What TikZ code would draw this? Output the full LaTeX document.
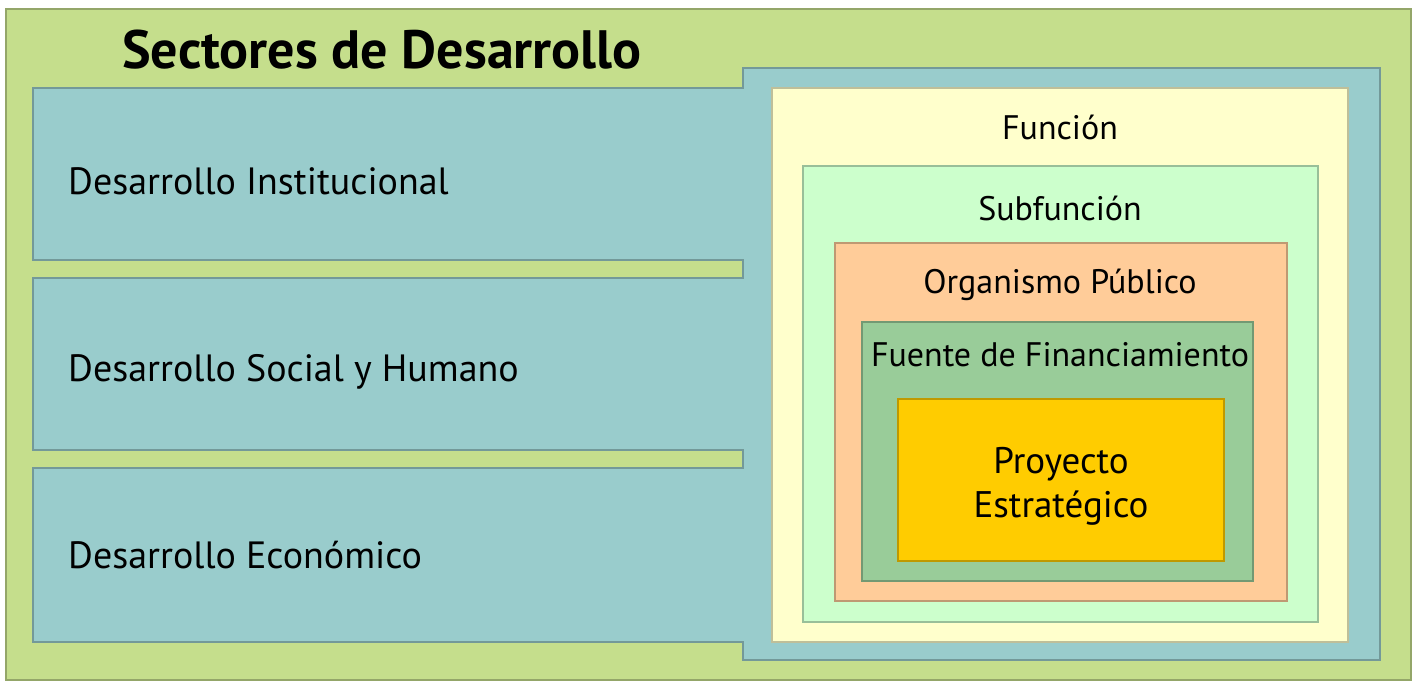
\documentclass[tikz,border=0pt]{standalone}
\usepackage{fontspec}
\setmainfont{PT Sans}
\definecolor{bggreen}{RGB}{197,222,140}
\definecolor{secblue}{RGB}{153,204,204}
\definecolor{cream}{RGB}{255,255,204}
\definecolor{lgreen}{RGB}{204,255,204}
\definecolor{peach}{RGB}{255,204,153}
\definecolor{mgreen}{RGB}{153,204,153}
\definecolor{gold}{RGB}{255,204,0}
\tikzset{
  layer/.style={fill=#1, draw=#1!75!black, line width=1.2pt},
  lbl/.style={font=\fontsize{38}{42}\selectfont, text=black, inner sep=0pt},
  rlbl/.style={font=\fontsize{34}{38}\selectfont, text=black, inner sep=0pt, anchor=center},
}
\begin{document}
\begin{tikzpicture}[x=1pt,y=-1pt]
\useasboundingbox (0,0) rectangle (1414,683);
\fill[white] (0,0) rectangle (1414,683);
\path[layer=bggreen] (6,9) rectangle (1411,680);
% sectors shape
\path[layer=secblue] (33,88) -- (743,88) -- (743,68) -- (1380,68) -- (1380,660)
  -- (743,660) -- (743,642) -- (33,642) -- (33,468) -- (743,468) -- (743,450)
  -- (33,450) -- (33,278) -- (743,278) -- (743,260) -- (33,260) -- cycle;
% nested boxes
\path[layer=cream]  (772,88)  rectangle (1348,642);
\path[layer=lgreen] (803,166) rectangle (1318,622);
\path[layer=peach]  (835,243) rectangle (1287,601);
\path[layer=mgreen] (862,322) rectangle (1253,581);
\path[layer=gold]   (898,399) rectangle (1224,561);
% texts
\node[font=\fontsize{54}{58}\selectfont\bfseries, inner sep=0pt, anchor=west] (title) at (122,50) {Sectores de Desarrollo};
\node[lbl, anchor=west] (s1) at (68,181) {Desarrollo Institucional};
\node[lbl, anchor=west] (s2) at (68,372) {Desarrollo Social y Humano};
\node[lbl, anchor=west] (s3) at (68,555) {Desarrollo Económico};
\node[rlbl] (f1) at (1060,127) {Función};
\node[rlbl] (f2) at (1060,208) {Subfunción};
\node[rlbl] (f3) at (1060,285) {Organismo Público};
\node[rlbl] (f4) at (1060,355) {Fuente de Financiamiento};
\node[font=\fontsize{37}{44}\selectfont, align=center, inner sep=0pt] (p) at (1061,486) {Proyecto\\Estratégico};
\end{tikzpicture}
\end{document}
